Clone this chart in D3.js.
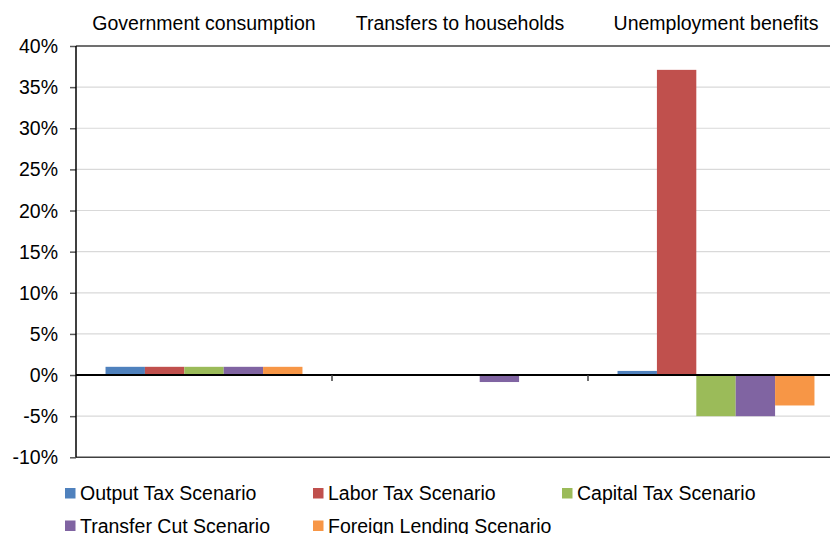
<!DOCTYPE html>
<html>
<head>
<meta charset="utf-8">
<script src="https://cdn.jsdelivr.net/npm/d3@7"></script>
<style>
  html, body { margin: 0; padding: 0; background: #fff; }
  svg { display: block; }
  text { font-family: "Liberation Sans", Arial, sans-serif; fill: #000; }
</style>
</head>
<body>
<svg id="chart" width="830" height="534"></svg>
<script>
const categories = ["Government consumption", "Transfers to households", "Unemployment benefits"];
const seriesNames = ["Output Tax Scenario", "Labor Tax Scenario", "Capital Tax Scenario", "Transfer Cut Scenario", "Foreign Lending Scenario"];
const outputTax = [1.0, 0, 0.5];
const laborTax = [1.0, 0, 37.1];
const capitalTax = [1.0, 0, -5.0];
const transferCut = [1.0, -0.85, -5.0];
const foreignLending = [1.0, 0, -3.7];
const yTicks = [-10, -5, 0, 5, 10, 15, 20, 25, 30, 35, 40];
const colors = ["#4f81bd", "#c0504d", "#9bbb59", "#8064a2", "#f79646"];

(function () {
const seriesValues = [outputTax, laborTax, capitalTax, transferCut, foreignLending];
const svg = d3.select("#chart");
const FS = "19.5px";

const pLeft = 76, pRight = 844, pTop = 46, pBottom = 457.3;
const y = d3.scaleLinear().domain([-10, 40]).range([pBottom, pTop]);
const x0 = d3.scaleBand().domain(categories).range([pLeft, pRight]).padding(0);
const x1 = d3.scaleBand().domain(seriesNames).range([0, x0.bandwidth()]).paddingInner(0).paddingOuter(0.75);
const color = d3.scaleOrdinal().domain(seriesNames).range(colors);

function label(x, yy, anchor) {
  return svg.append("text")
    .attr("x", x).attr("y", yy)
    .attr("text-anchor", anchor)
    .style("font-size", FS);
}

// gridlines
svg.append("g").selectAll("line").data(yTicks).join("line")
  .attr("x1", pLeft).attr("x2", 830)
  .attr("y1", d => y(d)).attr("y2", d => y(d))
  .attr("stroke", d => (d === 40 || d === -10) ? "#404040" : "#d9d9d9")
  .attr("stroke-width", d => (d === 40 || d === -10) ? 1.5 : 1.2);

// y axis ticks
const yAxis = d3.axisLeft(y).tickValues(yTicks).tickSize(6).tickFormat(d => d + "%");
const gy = svg.append("g").attr("transform", `translate(${pLeft},0)`).call(yAxis);
gy.select(".domain").remove();
gy.selectAll(".tick line").attr("stroke", "#595959").attr("stroke-width", 1.5);
gy.selectAll(".tick text").remove();
yTicks.forEach(t => {
  label(58, y(t) + 7, "end").text(t + "%");
});

// bars
const data = [];
categories.forEach((c, ci) => {
  seriesNames.forEach((s, si) => {
    data.push({ cat: c, series: s, value: seriesValues[si][ci] });
  });
});
svg.append("g").selectAll("rect").data(data).join("rect")
  .attr("x", d => x0(d.cat) + x1(d.series))
  .attr("width", x1.bandwidth())
  .attr("y", d => y(Math.max(0, d.value)))
  .attr("height", d => Math.abs(y(d.value) - y(0)))
  .attr("fill", d => color(d.series));

// y axis line
svg.append("line").attr("x1", pLeft).attr("x2", pLeft).attr("y1", pTop).attr("y2", pBottom)
  .attr("stroke", "#000").attr("stroke-width", 1.5);

// zero line + category ticks
svg.append("line").attr("x1", pLeft).attr("x2", 830).attr("y1", y(0)).attr("y2", y(0))
  .attr("stroke", "#000").attr("stroke-width", 2);
svg.append("g").selectAll("line").data(categories.slice(1)).join("line")
  .attr("x1", d => x0(d)).attr("x2", d => x0(d))
  .attr("y1", y(0)).attr("y2", y(0) + 6)
  .attr("stroke", "#404040").attr("stroke-width", 1.5);

// category labels at top
categories.forEach(c => {
  label(x0(c) + x0.bandwidth() / 2, 30, "middle").text(c);
});

// legend
const legendPos = [
  { x: 65, y: 493 }, { x: 313, y: 493 }, { x: 562, y: 493 },
  { x: 65, y: 525.5 }, { x: 313, y: 525.5 }
];
seriesNames.forEach((s, i) => {
  const p = legendPos[i];
  svg.append("rect").attr("x", p.x).attr("y", p.y - 5).attr("width", 10.5).attr("height", 10.5)
    .attr("fill", color(s));
  label(p.x + 15, p.y + 7, "start").text(s);
});
})();
</script>
</body>
</html>
